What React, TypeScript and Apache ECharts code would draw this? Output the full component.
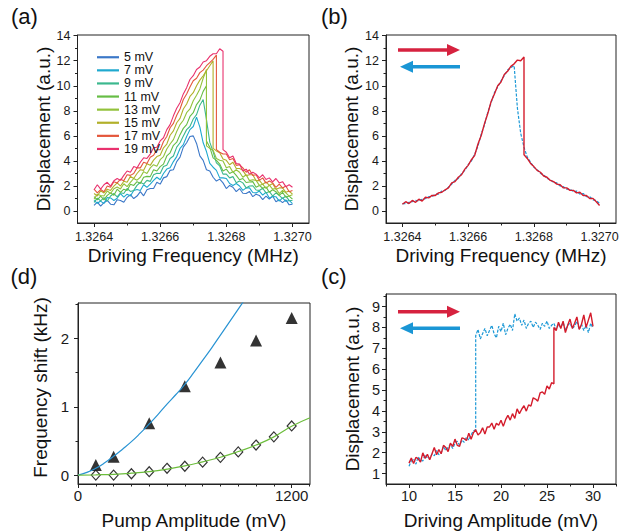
import React, { useEffect, useRef } from "react";
import * as echarts from "echarts";

const FONT = "'Liberation Sans', Arial, Helvetica, sans-serif";

// ---------- Panel (a) / (b): frequency sweep grid ----------
const FREQ_START = 1.3264;
const FREQ_STEP = 0.00001;
const FREQ_COUNT = 61;
const FREQ_TICK_LABELS = [1.3264, 1.3266, 1.3268, 1.327];
const FREQ_MINOR_TICKS = [1.3265, 1.3267, 1.3269];
const DISP_TICK_LABELS = [0, 2, 4, 6, 8, 10, 12, 14];
const DISP_MINOR_TICKS = [1, 3, 5, 7, 9, 11, 13];

const AMP_NAMES = ["5 mV", "7 mV", "9 mV", "11 mV", "13 mV", "15 mV", "17 mV", "19 mV"];
const AMP_COLORS = ["#3c78c8", "#1fa9cf", "#3cb88e", "#66bd45", "#93c23c", "#b2b02a", "#e4573c", "#e9326e"];

const a5 = [0.45,0.72,0.4,0.67,0.85,0.55,0.5,0.9,0.85,0.7,1.1,1.32,1.0,1.2,1.55,1.22,1.7,1.8,1.8,2.3,2.15,2.65,2.75,3.25,3.3,3.95,4.3,5.1,5.45,5.95,6.0,5.4,4.4,4.05,3.3,3.2,2.7,2.4,2.55,2.25,1.8,2.05,1.9,1.55,1.8,1.42,1.4,1.57,1.15,1.35,1.25,0.92,1.2,0.95,1.2,0.75,0.9,0.68,0.9,0.5,0.55];
const a7 = [0.85,0.62,0.8,0.6,1.08,1.05,0.85,1.02,1.4,1.12,1.35,1.2,1.65,1.72,1.65,2.1,1.9,2.15,2.45,2.7,2.5,3.0,3.35,3.45,3.95,4.35,5.0,5.3,5.95,6.5,6.75,7.5,6.7,5.45,4.75,3.8,3.5,3.25,2.65,2.65,2.6,2.2,2.05,2.2,2.0,1.65,1.85,1.85,1.48,1.45,1.6,1.28,1.5,1.05,1.17,1.15,0.8,1.05,0.77,0.85,0.6];
const a9 = [0.7,1.03,0.82,1.07,0.8,1.2,1.4,1.13,1.46,1.4,1.8,1.57,1.65,2.05,2.3,2.15,2.45,2.37,2.9,3.02,3.0,3.55,3.65,4.2,4.4,5.1,5.45,6.0,6.5,6.75,7.35,7.7,8.45,8.9,7.3,5.5,4.75,3.85,3.6,2.95,2.95,2.65,2.75,2.27,2.4,2.25,1.85,2.0,2.02,1.68,1.65,1.82,1.45,1.57,1.2,1.45,1.25,1.0,1.2,0.85,0.85];
const a11 = [1.15,0.9,1.2,0.9,1.25,1.45,1.27,1.75,1.5,1.75,1.65,2.15,2.05,2.35,2.2,2.7,2.77,2.75,3.3,3.2,3.55,3.75,4.4,4.65,5.25,5.5,6.1,6.6,6.9,7.55,7.85,8.5,8.85,9.55,10.0,5.1,4.25,4.05,3.75,3.2,3.35,3.0,3.15,2.85,2.5,2.6,2.28,2.32,2.35,1.9,2.05,1.82,1.93,1.5,1.7,1.55,1.25,1.5,1.1,1.2,0.95];
const a13 = [0.95,1.35,1.25,1.2,1.6,1.4,1.78,1.92,1.77,2.18,1.95,2.3,2.6,2.47,2.7,3.15,3.0,3.45,3.7,3.58,4.1,4.35,4.95,5.35,5.7,6.35,6.9,7.25,7.85,8.15,8.8,9.25,9.75,10.6,11.3,5.0,4.85,4.2,4.05,4.0,3.45,3.55,3.1,3.3,3.1,2.7,2.9,2.43,2.5,2.45,2.05,2.15,1.8,2.07,1.75,1.8,1.4,1.65,1.45,1.2,1.3];
const a15 = [1.4,1.2,1.62,1.45,1.75,1.65,2.0,2.25,2.0,2.38,2.3,2.77,2.6,3.0,3.3,3.25,3.77,3.65,4.07,4.35,4.45,5.05,5.35,6.05,6.4,7.05,7.4,8.15,8.55,9.15,9.45,10.0,10.45,10.8,11.2,11.6,12.0,4.8,4.65,4.15,4.05,3.7,3.9,3.4,3.4,3.25,2.83,2.9,2.9,2.42,2.45,2.12,2.33,2.05,2.2,1.75,1.85,1.85,1.5,1.6,1.35];
const a17 = [1.75,1.45,1.72,1.55,2.0,1.9,2.35,2.25,2.55,2.43,2.9,2.85,3.0,3.45,3.45,3.9,3.8,4.3,4.45,4.9,4.9,5.55,5.95,6.65,7.0,7.65,8.15,8.9,9.35,9.9,10.4,10.6,11.05,11.25,11.6,11.85,12.1,12.45,4.7,4.55,4.55,4.1,4.2,3.65,3.7,3.45,3.1,3.3,2.85,2.9,2.45,2.65,2.23,2.4,2.25,1.9,2.15,1.85,2.0,1.55,1.65];
const a19 = [1.7,2.1,1.75,2.1,2.3,2.0,2.42,2.6,2.45,2.85,3.2,3.1,3.55,3.45,3.9,4.25,4.2,4.55,5.05,5.1,5.6,5.85,6.5,6.9,7.6,8.2,8.65,9.35,9.85,10.5,10.8,11.3,11.5,11.9,12.0,12.35,12.55,12.55,12.95,12.75,4.7,4.25,4.4,3.8,3.75,3.2,3.35,2.95,3.1,2.95,2.65,2.9,2.52,2.65,2.33,2.6,2.25,2.35,1.95,2.1,1.9];
const A_CURVES = [a5, a7, a9, a11, a13, a15, a17, a19];
// index where the up-sweep falls off the upper branch, and the value it falls to
const A_JUMP_INDEX = [-1, -1, -1, 34, 34, 36, 37, 39];
const A_JUMP_LOW = [0, 0, 0, 5.6, 5.2, 5.0, 4.9, 4.9];

// (b) forward (red) and backward (blue) sweep at one amplitude
const bForward = [0.55,0.75,0.6,0.85,0.7,0.95,0.8,1.1,1.05,1.25,1.25,1.45,1.5,1.7,1.85,2.25,2.35,2.7,2.9,3.35,3.65,4.1,4.45,5.35,6.05,7.0,7.8,8.75,9.35,10.0,10.3,10.9,11.15,11.55,11.75,12.05,12.0,12.3,4.2,3.8,3.55,3.25,3.1,2.8,2.7,2.45,2.35,2.15,2.1,1.85,1.85,1.65,1.65,1.45,1.5,1.25,1.25,1.0,1.0,0.75,0.45];
const B_FORWARD_JUMP_INDEX = 37;
const B_FORWARD_JUMP_LOW = 4.5;
const bBackward = [0.6,0.6,0.7,0.75,0.85,0.8,0.95,1.0,1.15,1.15,1.35,1.35,1.6,1.65,1.9,2.15,2.45,2.6,3.0,3.25,3.7,4.0,4.55,5.2,6.15,6.9,7.9,8.65,9.45,9.9,10.4,10.8,11.25,11.45,11.6,8.2,6.2,5.1,4.3,3.9,3.5,3.3,3.0,2.9,2.6,2.5,2.3,2.25,2.0,1.95,1.75,1.75,1.55,1.6,1.35,1.4,1.15,1.15,0.9,0.85,0.6];

// ---------- Panel (c): amplitude sweep ----------
const DRIVE_START = 10;
const DRIVE_STEP = 0.25;
const cForward = [1.5,1.74,1.48,1.77,1.71,1.55,1.99,1.73,1.92,1.66,1.95,2.25,1.9,2.15,1.95,2.35,2.25,2.05,2.45,2.3,2.65,2.35,2.3,2.71,2.67,2.58,2.93,2.64,2.95,3.1,2.85,2.95,3.19,2.89,3.23,3.23,3.42,3.12,3.41,3.31,3.55,3.26,3.58,3.79,3.56,3.87,3.64,4.1,3.87,4.08,4.25,3.99,4.29,4.23,4.63,4.57,4.47,4.86,4.91,4.8,5.2,5.05,5.35,5.3,7.85,8.25,7.95,8.3,7.75,8.1,8.4,7.95,8.2,8.5,7.9,8.15,8.6,8.0,8.35,8.7,8.05];
const C_FORWARD_JUMP_INDEX = 63;
const C_FORWARD_JUMP_HIGH = 8.0;
const cBackward = [1.35,1.6,1.7,1.45,1.8,1.65,1.6,1.9,1.75,1.7,1.95,1.85,2.1,1.9,2.0,2.3,2.1,2.25,2.4,2.2,2.45,2.55,2.35,2.6,2.5,2.75,2.6,2.85,3.05,3.1,7.9,7.45,7.7,7.95,7.6,7.85,8.1,7.7,7.5,8.05,7.8,8.2,7.65,7.95,8.15,7.85,8.65,8.3,8.45,8.1,8.35,7.95,8.2,8.3,8.0,8.25,8.1,7.9,8.2,8.05,8.3,7.95,8.1,8.2,7.9,8.15,8.0,8.25,7.85,8.1,8.2,7.95,8.05,8.3,7.9,8.15,7.85,8.1,7.75,8.2,7.95];
const C_BACKWARD_JUMP_INDEX = 29;
const C_BACKWARD_JUMP_HIGH = 7.6;

// ---------- Panel (d): frequency shift vs pump amplitude ----------
const PUMP_TRI_X = [100, 200, 400, 600, 800, 1000, 1200];
const SHIFT_TRI = [0.15, 0.27, 0.76, 1.3, 1.65, 1.97, 2.3];
const PUMP_DIA_X = [100, 200, 300, 400, 500, 600, 700, 800, 900, 1000, 1100, 1200];
const SHIFT_DIA = [0, 0, 0.02, 0.05, 0.1, 0.13, 0.19, 0.26, 0.34, 0.44, 0.56, 0.72];
const FIT_BLUE_X = [0, 50, 100, 150, 200, 250, 300, 350, 400, 450, 500, 550, 600, 650, 700, 750, 800, 850, 900, 950];
const FIT_BLUE_Y = [0, 0.04, 0.1, 0.18, 0.275, 0.38, 0.49, 0.615, 0.75, 0.89, 1.04, 1.18, 1.33, 1.5, 1.68, 1.86, 2.05, 2.24, 2.43, 2.62];
const FIT_GREEN_X = [0, 100, 200, 300, 400, 500, 600, 700, 800, 900, 1000, 1100, 1200, 1303];
const FIT_GREEN_Y = [0, 0.005, 0.012, 0.028, 0.052, 0.088, 0.135, 0.195, 0.262, 0.345, 0.44, 0.56, 0.715, 0.84];

const RED = "#d41c2c";
const BLUE = "#1b98d6";

function xsFrom(start: number, step: number, n: number) {
  const out: number[] = [];
  for (let i = 0; i < n; i++) out.push(+(start + i * step).toFixed(6));
  return out;
}

function sweep(xs: number[], ys: number[], jumpIdx: number, jumpVal: number) {
  const out: number[][] = [];
  ys.forEach((y, i) => {
    out.push([xs[i], y]);
    if (i === jumpIdx) out.push([xs[i], jumpVal]);
  });
  return out;
}

function pairs(xs: number[], ys: number[]) {
  return xs.map((x, i) => [x, ys[i]]);
}

type AxisSpec = {
  grid: number; min: number; max: number;
  labels: number[]; minor: number[];
  name: string; nameGap: number; fontSize: number; margin: number;
  fmt: (v: number) => string; namePadding?: number[];
};

function axes(kind: "x" | "y", s: AxisSpec) {
  const pos = kind === "x" ? "bottom" : "left";
  const main = {
    type: "value", gridIndex: s.grid, min: s.min, max: s.max, position: pos,
    name: s.name, nameLocation: "middle", nameGap: s.nameGap,
    nameTextStyle: { fontSize: 19, color: "#111", fontFamily: FONT, padding: s.namePadding || 0 },
    axisLine: { show: true, onZero: false, lineStyle: { color: "#222", width: 1 } },
    axisTick: { show: true, customValues: s.labels, length: 4, lineStyle: { color: "#222", width: 1 } },
    axisLabel: { show: true, customValues: s.labels, formatter: s.fmt, fontSize: s.fontSize, color: "#1a1a1a", margin: s.margin, fontFamily: FONT },
    splitLine: { show: false },
  };
  const minor = {
    type: "value", gridIndex: s.grid, min: s.min, max: s.max, position: pos,
    axisLine: { show: false, onZero: false },
    axisTick: { show: true, customValues: s.minor, length: 2.5, lineStyle: { color: "#222", width: 1 } },
    axisLabel: { show: false },
    splitLine: { show: false },
  };
  return [main, minor];
}

function arrow(x1: number, x2: number, y: number, color: string) {
  const dir = x2 > x1 ? 1 : -1;
  const headLen = 13;
  const baseX = x2 - dir * headLen;
  return [
    { type: "line", shape: { x1, y1: y, x2: baseX + dir * 1, y2: y }, style: { stroke: color, lineWidth: 3.5 } },
    { type: "polygon", shape: { points: [[baseX, y - 6], [x2, y], [baseX, y + 6]] }, style: { fill: color } },
  ];
}

function panelLabel(text: string, x: number, y: number) {
  return {
    type: "text", x, y,
    style: { text, fontSize: 22, fontFamily: FONT, fill: "#111", textAlign: "left", textVerticalAlign: "middle", verticalAlign: "middle" },
  };
}

function buildOption() {
  const freqs = xsFrom(FREQ_START, FREQ_STEP, FREQ_COUNT);
  const drives = xsFrom(DRIVE_START, DRIVE_STEP, cForward.length);
  const fmtFreq = (v: number) => v.toFixed(4);
  const fmtInt = (v: number) => String(Math.round(v));

  const grids = [
    { left: 77.5, top: 35, width: 231.5, height: 188 },
    { left: 386, top: 35, width: 230, height: 188 },
    { left: 78, top: 303, width: 232, height: 181 },
    { left: 386, top: 294, width: 230, height: 190 },
  ].map((g) => ({ ...g, show: true, borderColor: "#222", borderWidth: 1, backgroundColor: "transparent", containLabel: false }));

  const xAxis = [
    ...axes("x", { grid: 0, min: 1.32635, max: 1.32705, labels: FREQ_TICK_LABELS, minor: FREQ_MINOR_TICKS, name: "Driving Frequency (MHz)", nameGap: 23, fontSize: 12.5, margin: 7, fmt: fmtFreq }),
    ...axes("x", { grid: 1, min: 1.32635, max: 1.32705, labels: FREQ_TICK_LABELS, minor: FREQ_MINOR_TICKS, name: "Driving Frequency (MHz)", nameGap: 23, fontSize: 12.5, margin: 7, fmt: fmtFreq }),
    ...axes("x", { grid: 2, min: 0, max: 1303, labels: [0, 1200], minor: [100, 200, 300, 400, 500, 600, 700, 800, 900, 1000, 1100, 1300], name: "Pump Amplitude (mV)", nameGap: 27, fontSize: 15, margin: 4, fmt: fmtInt }),
    ...axes("x", { grid: 3, min: 7.5, max: 32.5, labels: [10, 15, 20, 25, 30], minor: [7.5, 12.5, 17.5, 22.5, 27.5, 32.5], name: "Driving Amplitude (mV)", nameGap: 27, fontSize: 14.5, margin: 4, fmt: fmtInt }),
  ];
  const yAxis = [
    ...axes("y", { grid: 0, min: -0.95, max: 14.05, labels: DISP_TICK_LABELS, minor: DISP_MINOR_TICKS, name: "Displacement (a.u.)", nameGap: 22, fontSize: 12.5, margin: 7, fmt: fmtInt }),
    ...axes("y", { grid: 1, min: -0.95, max: 14.05, labels: DISP_TICK_LABELS, minor: DISP_MINOR_TICKS, name: "Displacement (a.u.)", nameGap: 22, fontSize: 12.5, margin: 7, fmt: fmtInt }),
    ...axes("y", { grid: 2, min: -0.13, max: 2.52, labels: [0, 1, 2], minor: [0.5, 1.5, 2.5], name: "Frequency shift (kHz)", nameGap: 28, fontSize: 15, margin: 9, fmt: fmtInt, namePadding: [0, 0, 0, 12] }),
    ...axes("y", { grid: 3, min: 0.5, max: 9.6, labels: [1, 2, 3, 4, 5, 6, 7, 8, 9], minor: [1.5, 2.5, 3.5, 4.5, 5.5, 6.5, 7.5, 8.5, 9.5], name: "Displacement (a.u.)", nameGap: 24, fontSize: 14.5, margin: 6, fmt: fmtInt }),
  ];

  const series: any[] = [];
  A_CURVES.forEach((ys, k) => {
    series.push({
      type: "line", name: AMP_NAMES[k], xAxisIndex: 0, yAxisIndex: 0,
      data: sweep(freqs, ys, A_JUMP_INDEX[k], A_JUMP_LOW[k]),
      showSymbol: false, symbol: "none",
      lineStyle: { color: AMP_COLORS[k], width: 1.1 }, itemStyle: { color: AMP_COLORS[k] },
    });
  });
  series.push({
    type: "line", name: "backward (b)", xAxisIndex: 2, yAxisIndex: 2,
    data: pairs(freqs, bBackward), showSymbol: false, symbol: "none",
    lineStyle: { color: BLUE, width: 1.2, type: [3, 1.5] },
  });
  series.push({
    type: "line", name: "forward (b)", xAxisIndex: 2, yAxisIndex: 2,
    data: sweep(freqs, bForward, B_FORWARD_JUMP_INDEX, B_FORWARD_JUMP_LOW), showSymbol: false, symbol: "none",
    lineStyle: { color: RED, width: 1.4 },
  });
  series.push({
    type: "line", name: "fit 1", xAxisIndex: 4, yAxisIndex: 4, data: pairs(FIT_BLUE_X, FIT_BLUE_Y),
    showSymbol: false, symbol: "none", smooth: true, clip: true, lineStyle: { color: "#2893d3", width: 1.2 },
  });
  series.push({
    type: "line", name: "fit 2", xAxisIndex: 4, yAxisIndex: 4, data: pairs(FIT_GREEN_X, FIT_GREEN_Y),
    showSymbol: false, symbol: "none", smooth: true, clip: true, lineStyle: { color: "#6cbd3c", width: 1.2 },
  });
  series.push({
    type: "scatter", name: "shift 1", xAxisIndex: 4, yAxisIndex: 4, data: pairs(PUMP_TRI_X, SHIFT_TRI),
    symbol: "triangle", symbolSize: 12, itemStyle: { color: "#000" },
  });
  series.push({
    type: "scatter", name: "shift 2", xAxisIndex: 4, yAxisIndex: 4, data: pairs(PUMP_DIA_X, SHIFT_DIA),
    symbol: "diamond", symbolSize: [9, 10], itemStyle: { color: "#fff", borderColor: "#000", borderWidth: 1.2 },
  });
  series.push({
    type: "line", name: "backward (c)", xAxisIndex: 6, yAxisIndex: 6,
    data: sweep(drives, cBackward, C_BACKWARD_JUMP_INDEX, C_BACKWARD_JUMP_HIGH), showSymbol: false, symbol: "none",
    lineStyle: { color: BLUE, width: 1.2, type: [3, 1.5] },
  });
  series.push({
    type: "line", name: "forward (c)", xAxisIndex: 6, yAxisIndex: 6,
    data: sweep(drives, cForward, C_FORWARD_JUMP_INDEX, C_FORWARD_JUMP_HIGH), showSymbol: false, symbol: "none",
    lineStyle: { color: RED, width: 1.4 },
  });

  const graphic = [
    panelLabel("(a)", 11, 16),
    panelLabel("(b)", 321, 16),
    panelLabel("(d)", 10.5, 276),
    panelLabel("(c)", 321, 276),
    ...arrow(398, 460, 50, "#d6223f"),
    ...arrow(460, 400, 66.7, "#1a96d5"),
    ...arrow(398, 460, 311.7, "#d6223f"),
    ...arrow(460, 400, 328.3, "#1a96d5"),
  ];

  return {
    animation: false,
    textStyle: { fontFamily: FONT },
    grid: grids,
    xAxis, yAxis, series, graphic,
    legend: {
      data: AMP_NAMES, orient: "vertical", left: 92, top: 45.7,
      icon: "rect", itemWidth: 22, itemHeight: 2.2, itemGap: 0, itemTextGap: 3,
      textStyle: { fontSize: 12.5, lineHeight: 13.1, color: "#111", fontFamily: FONT },
      selectedMode: false,
    },
  };
}

export default function App() {
  const ref = useRef<HTMLDivElement>(null);
  useEffect(() => {
    if (!ref.current) return;
    const chart = echarts.init(ref.current, undefined, { renderer: "svg" });
    chart.setOption(buildOption() as any);
    return () => chart.dispose();
  }, []);
  return <div ref={ref} style={{ width: 629, height: 531, position: "absolute", left: 0, top: 0, background: "#fff" }} />;
}
